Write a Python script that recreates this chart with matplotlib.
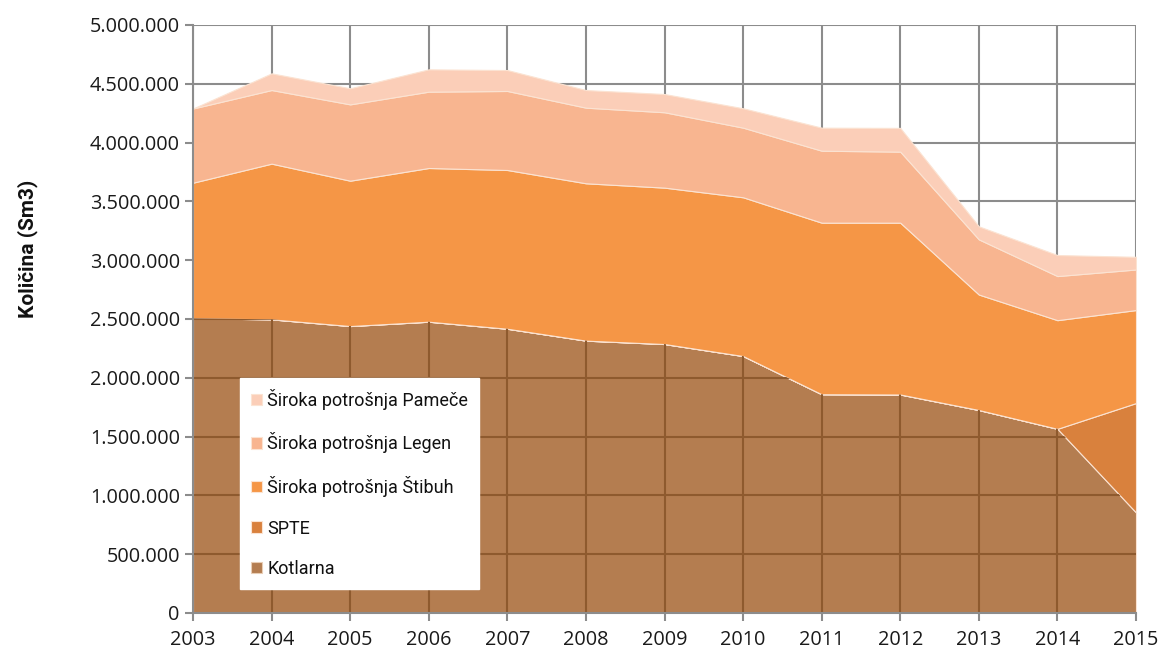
import numpy as np
import matplotlib
matplotlib.use('Agg')
from matplotlib import pyplot as plt
from matplotlib.ticker import FuncFormatter

plt.rcParams['font.family'] = ['Open Sans', 'DejaVu Sans']

# podatki (Sm3)
years = [2003, 2004, 2005, 2006, 2007, 2008, 2009, 2010, 2011, 2012, 2013, 2014, 2015]
kotlarna = [2506000, 2497000, 2440000, 2477000, 2417000, 2316000, 2287000, 2185000,
            1860000, 1858000, 1726000, 1566000, 855000]
spte = [0, 0, 0, 0, 0, 0, 0, 0, 0, 0, 0, 0, 930000]
stibuh = [1153000, 1324000, 1236000, 1307000, 1350000, 1338000, 1330000, 1350000,
          1459000, 1461000, 982000, 924000, 791000]
legen = [631000, 626000, 649000, 649000, 672000, 643000, 641000, 592000,
         612000, 604000, 469000, 375000, 345000]
pamece = [0, 142000, 137000, 190000, 178000, 150000, 155000, 165000,
          196000, 202000, 111000, 179000, 108000]

labels = ['Kotlarna', 'SPTE', 'Široka potrošnja Štibuh',
          'Široka potrošnja Legen', 'Široka potrošnja Pameče']
colors = ['#B47D50', '#D9813D', '#F59646', '#F8B590', '#FBCEB8']

yticks = np.arange(0, 5000001, 500000)

fig = plt.figure(figsize=(11.6, 6.56), dpi=100)
ax = fig.add_axes([193 / 1160, 1 - 613 / 656, (1136 - 193) / 1160, (613 - 25) / 656])

polys = ax.stackplot(years, kotlarna, spte, stibuh, legen, pamece,
                     colors=colors, labels=labels, edgecolor='#FBE3D2', linewidth=0.8, zorder=2)

# mreža
for y in yticks:
    ax.axhline(y, color='#8C8C8C', linewidth=1.5, zorder=1)
for x in years:
    ax.axvline(x, color='#8C8C8C', linewidth=1.5, zorder=1)

# mreža vidna skozi kotlarno (temnejša rjava)
kot_path = polys[0].get_paths()[0]
for y in yticks[1:]:
    ln = ax.axhline(y, color='#8E5A2E', linewidth=1.5, zorder=3)
    ln.set_clip_path(kot_path, ax.transData)
for x in years[1:-1]:
    ln = ax.axvline(x, color='#8E5A2E', linewidth=1.5, zorder=3)
    ln.set_clip_path(kot_path, ax.transData)

ax.set_xlim(2003, 2015)
ax.set_ylim(0, 5000000)
ax.set_xticks(years)
ax.set_yticks(yticks)
ax.yaxis.set_major_formatter(FuncFormatter(lambda v, p: f"{int(v):,}".replace(',', '.')))

for s in ['top', 'right']:
    ax.spines[s].set_visible(False)
for s in ['left', 'bottom']:
    ax.spines[s].set_color('#8C8C8C')
    ax.spines[s].set_linewidth(1.5)
    ax.spines[s].set_zorder(4)

ax.tick_params(axis='both', direction='out', length=6, width=1.5, color='#8C8C8C',
               labelsize=14.3, labelcolor='#1A1A1A')
ax.tick_params(axis='x', pad=6)

fig.text(28 / 1160, 1 - 249 / 656, 'Količina (Sm3)', rotation=90, ha='center', va='center',
         fontsize=15, fontweight='bold', family=['Roboto', 'DejaVu Sans'], color='#111111')

handles, lbls = ax.get_legend_handles_labels()
leg = ax.legend(handles[::-1], lbls[::-1], loc='upper left',
                bbox_to_anchor=(240 / 1160, 1 - 378 / 656), bbox_transform=fig.transFigure,
                borderaxespad=0, prop={'family': ['Roboto', 'DejaVu Sans'], 'size': 13},
                frameon=True, fancybox=False,
                edgecolor='white', facecolor='white', framealpha=1,
                handlelength=0.6, handleheight=0.6, handletextpad=0.3,
                labelspacing=1.25, borderpad=0.6)
leg.set_zorder(5)
leg.legend_handles[-1].set_edgecolor('#E8CDB5')
for t in leg.get_texts():
    t.set_color('#111111')

plt.savefig('out.png', dpi=100)
